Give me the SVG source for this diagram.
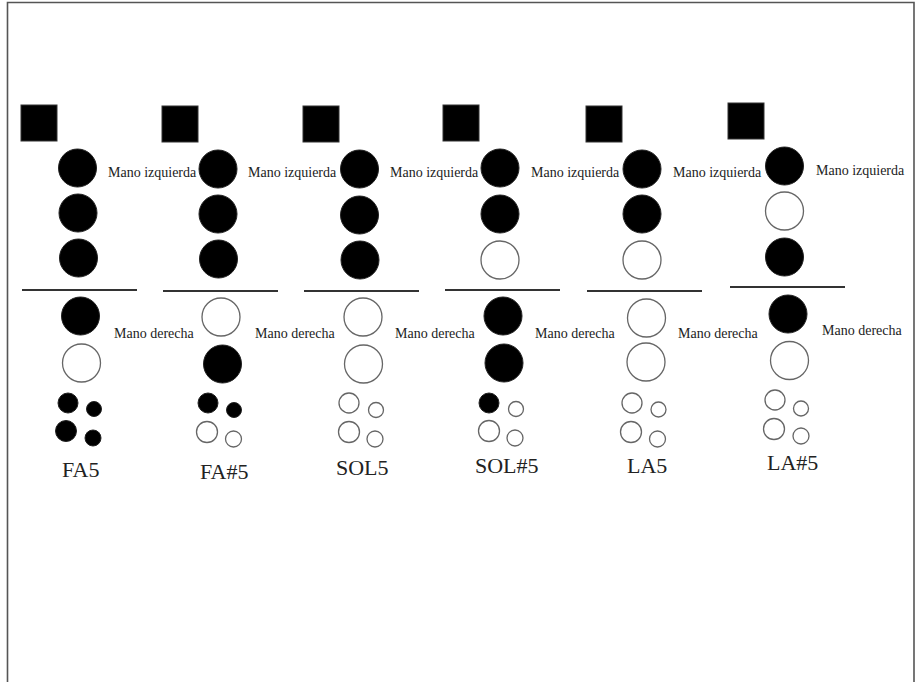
<svg xmlns="http://www.w3.org/2000/svg" width="915" height="682" viewBox="0 0 915 682">
<style>
.f{fill:#000;stroke:#222;stroke-width:1}
.o{fill:#fff;stroke:#666;stroke-width:1.3}
.sq{fill:#000;stroke:#333;stroke-width:1}
.sep{stroke:#333;stroke-width:2}
.note{font-size:14px;fill:#222}
.name{font-size:22px;fill:#222}
</style>
<rect width="915" height="682" fill="#fff"/>
<path d="M7.5,682 V2.5 H914 V682" fill="none" stroke="#555" stroke-width="1.6"/>

<g font-family="Liberation Serif, Times New Roman, DejaVu Serif, serif">
<g id="fa5">
<rect class="sq" x="21" y="105" width="36" height="36"/>
<circle class="f" cx="77.5" cy="168" r="19"/>
<circle class="f" cx="78" cy="213" r="19"/>
<circle class="f" cx="78.5" cy="258" r="19"/>
<line class="sep" x1="22" y1="290" x2="137" y2="290"/>
<circle class="f" cx="80.5" cy="316" r="19"/>
<circle class="o" cx="81.5" cy="363" r="19"/>
<circle class="f" cx="68" cy="403" r="10"/>
<circle class="f" cx="94" cy="409" r="7.5"/>
<circle class="f" cx="66" cy="431" r="10.5"/>
<circle class="f" cx="93" cy="438" r="8"/>
<text class="note" x="108" y="177">Mano izquierda</text>
<text class="note" x="114" y="338">Mano derecha</text>
<text class="name" x="62" y="477">FA5</text>
</g>

<g id="fa-sharp5">
<rect class="sq" x="162" y="106" width="36" height="36"/>
<circle class="f" cx="218" cy="169" r="19"/>
<circle class="f" cx="218" cy="214" r="19"/>
<circle class="f" cx="218.5" cy="259" r="19"/>
<line class="sep" x1="163" y1="291" x2="278" y2="291"/>
<circle class="o" cx="221" cy="317" r="19"/>
<circle class="f" cx="222.5" cy="364" r="19"/>
<circle class="f" cx="208" cy="403" r="10"/>
<circle class="f" cx="234" cy="410" r="7.5"/>
<circle class="o" cx="207" cy="432" r="10.5"/>
<circle class="o" cx="233.5" cy="439" r="8"/>
<text class="note" x="248" y="177">Mano izquierda</text>
<text class="note" x="255" y="338">Mano derecha</text>
<text class="name" x="200" y="479">FA#5</text>
</g>

<g id="sol5">
<rect class="sq" x="303" y="106" width="36" height="36"/>
<circle class="f" cx="359.5" cy="169" r="19"/>
<circle class="f" cx="359.5" cy="215" r="19"/>
<circle class="f" cx="360" cy="260" r="19"/>
<line class="sep" x1="304" y1="291" x2="419" y2="291"/>
<circle class="o" cx="363" cy="317" r="19"/>
<circle class="o" cx="363.5" cy="364" r="19"/>
<circle class="o" cx="349" cy="403" r="10"/>
<circle class="o" cx="376" cy="410" r="7.5"/>
<circle class="o" cx="349" cy="432" r="10.5"/>
<circle class="o" cx="375" cy="439" r="8"/>
<text class="note" x="390" y="177">Mano izquierda</text>
<text class="note" x="395" y="338">Mano derecha</text>
<text class="name" x="336" y="475">SOL5</text>
</g>

<g id="sol-sharp5">
<rect class="sq" x="443" y="105" width="36" height="36"/>
<circle class="f" cx="500" cy="168" r="19"/>
<circle class="f" cx="500" cy="214" r="19"/>
<circle class="o" cx="500" cy="260" r="19"/>
<line class="sep" x1="445" y1="290" x2="560" y2="290"/>
<circle class="f" cx="503" cy="316" r="19"/>
<circle class="f" cx="504" cy="363" r="19"/>
<circle class="f" cx="489" cy="403" r="10"/>
<circle class="o" cx="516" cy="409" r="7.5"/>
<circle class="o" cx="489" cy="431" r="10.5"/>
<circle class="o" cx="515" cy="438" r="8"/>
<text class="note" x="531" y="177">Mano izquierda</text>
<text class="note" x="535" y="338">Mano derecha</text>
<text class="name" x="475" y="473">SOL#5</text>
</g>

<g id="la5">
<rect class="sq" x="586" y="106" width="36" height="36"/>
<circle class="f" cx="642" cy="169" r="19"/>
<circle class="f" cx="642" cy="214" r="19"/>
<circle class="o" cx="642" cy="260" r="19"/>
<line class="sep" x1="587" y1="291" x2="702" y2="291"/>
<circle class="o" cx="646.5" cy="318" r="19"/>
<circle class="o" cx="646" cy="362" r="19"/>
<circle class="o" cx="632" cy="403" r="10"/>
<circle class="o" cx="658.5" cy="409.5" r="7.5"/>
<circle class="o" cx="631" cy="432" r="10.5"/>
<circle class="o" cx="657.5" cy="439" r="8"/>
<text class="note" x="673" y="177">Mano izquierda</text>
<text class="note" x="678" y="338">Mano derecha</text>
<text class="name" x="627" y="473">LA5</text>
</g>

<g id="la-sharp5">
<rect class="sq" x="728" y="103" width="36" height="36"/>
<circle class="f" cx="784.5" cy="166" r="19"/>
<circle class="o" cx="784.5" cy="211" r="19"/>
<circle class="f" cx="784.5" cy="257" r="19"/>
<line class="sep" x1="730" y1="287" x2="845" y2="287"/>
<circle class="f" cx="788" cy="314" r="19"/>
<circle class="o" cx="789.5" cy="360.5" r="19"/>
<circle class="o" cx="775" cy="400" r="10"/>
<circle class="o" cx="801" cy="408.5" r="7.5"/>
<circle class="o" cx="774" cy="429" r="10.5"/>
<circle class="o" cx="801" cy="436" r="8"/>
<text class="note" x="816" y="175">Mano izquierda</text>
<text class="note" x="822" y="335">Mano derecha</text>
<text class="name" x="767" y="470">LA#5</text>
</g>
</g>
</svg>
